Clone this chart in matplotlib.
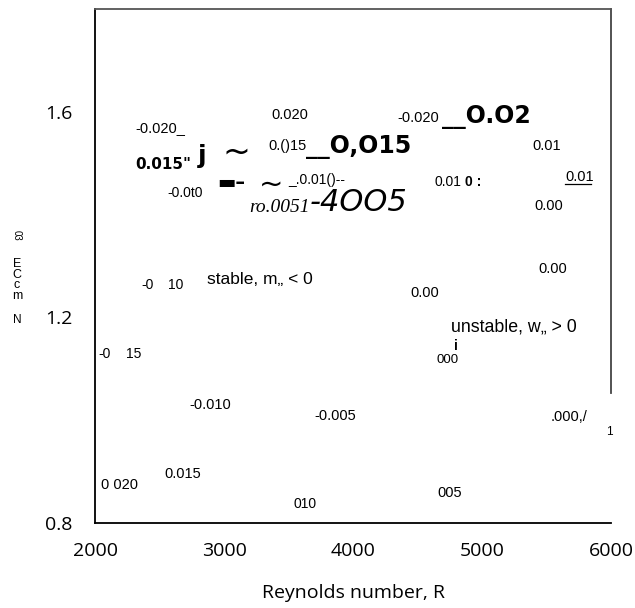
import matplotlib
matplotlib.use('Agg')
import matplotlib.pyplot as plt

# axis ranges and ticks
r_lim = (2000, 6000)
w_lim = (0.8, 1.8)
r_ticks = [2000, 3000, 4000, 5000, 6000]
w_ticks = [0.8, 1.2, 1.6]

# contour labels as they appear on the chart: (text, R, value, size, weight)
labels = [
    ('-0.020_', 2310, 1.569, 10.5, 'normal'),
    ('0.020', 3364, 1.594, 10.5, 'normal'),
    ('-0.020', 4341, 1.588, 10.5, 'normal'),
    ('0.()15', 3341, 1.534, 10.5, 'normal'),
    ('0.01', 5388, 1.534, 10.5, 'normal'),
    ('-0.0t0', 2558, 1.442, 10, 'normal'),
    ('_.0.01()--', 3496, 1.468, 10, 'normal'),
    ('0.01', 4628, 1.464, 10, 'normal'),
    ('0 :', 4870, 1.464, 10, 'bold'),
    ('0.00', 5403, 1.417, 10.5, 'normal'),
    ('0.00', 5434, 1.294, 10.5, 'normal'),
    ('0.00', 4442, 1.248, 10.5, 'normal'),
    ('-0', 2357, 1.263, 10, 'normal'),
    ('10', 2566, 1.263, 10, 'normal'),
    ('stable, m\u201e < 0', 2868, 1.273, 12.5, 'normal'),
    ('unstable, w\u201e > 0', 4760, 1.182, 12.8, 'normal'),
    ('i', 4783, 1.145, 10, 'bold'),
    ('000', 4651, 1.117, 9.5, 'normal'),
    ('-0', 2023, 1.129, 10, 'normal'),
    ('15', 2240, 1.129, 10, 'normal'),
    ('-0.010', 2729, 1.030, 10.5, 'normal'),
    ('-0.005', 3698, 1.008, 10.5, 'normal'),
    ('.000,/', 5535, 1.006, 10.5, 'normal'),
    ('1', 5961, 0.977, 8.5, 'normal'),
    ('0 020', 2047, 0.874, 10.5, 'normal'),
    ('0.015', 2535, 0.895, 10.5, 'normal'),
    ('010', 3535, 0.837, 10, 'normal'),
    ('005', 4651, 0.858, 10.5, 'normal'),
]

# large, distorted labels: (text, R, value, size)
big_labels = [
    ('__O.O2', 4690, 1.590, 17),
    ('__O,O15', 3636, 1.532, 17),
    ('0.015"', 2310, 1.497, 11),
    ('j', 2800, 1.514, 18),
    ('\u25ac\u2013', 2946, 1.462, 14),
]

# underlined label at the right edge
ul_label = ('0.01', 5643, 1.473)

fig = plt.figure(figsize=(6.35, 6.08), dpi=100)
ax = fig.add_axes([95 / 635, 85 / 608, 516 / 635, 514 / 608])
ax.set_xlim(*r_lim)
ax.set_ylim(*w_lim)
ax.set_xticks(r_ticks)
ax.set_yticks(w_ticks)
ax.set_xticklabels([str(t) for t in r_ticks], fontsize=14, family='Open Sans')
ax.set_yticklabels([str(t) for t in w_ticks], fontsize=14, family='Open Sans')
ax.tick_params(length=0)
ax.tick_params(axis='x', pad=14)
ax.tick_params(axis='y', pad=16)

for sp in ax.spines.values():
    sp.set_linewidth(1.3)
ax.spines['right'].set_bounds(1.053, 1.8)
ax.spines['right'].set_color('#444444')
ax.spines['top'].set_color('#555555')

ax.set_xlabel('Reynolds number, R', fontsize=14, family='Open Sans', labelpad=17)

for txt, r, w, size, weight in labels:
    ax.text(r, w, txt, fontsize=size, fontweight=weight, ha='left', va='center',
            family='Liberation Sans', clip_on=False)

for txt, r, w, size in big_labels:
    ax.text(r, w, txt, fontsize=size, fontweight='bold', ha='left', va='center',
            family='DejaVu Sans')

# thin and thick tildes
ax.text(2985, 1.522, '~', fontsize=24, ha='left', va='center', family='DejaVu Sans')
ax.text(3271, 1.458, '~', fontsize=21, ha='left', va='center', family='DejaVu Sans')
ax.text(3194, 1.413, 'ro.0051', fontsize=14, style='italic', ha='left', va='center',
        family='Liberation Serif')
ax.text(3667, 1.423, '-4OO5', fontsize=22, style='italic', ha='left', va='center',
        family='DejaVu Sans')

t, r, w = ul_label
ax.text(r, w, t, fontsize=10.5, ha='left', va='center', family='Liberation Sans')
ax.plot([r, r + 200], [w - 0.013, w - 0.013], color='black', lw=0.9)

# garbled y label
fig.text(17 / 635, 1 - 235 / 608, '03', fontsize=7, rotation=270, ha='center', va='center',
         family='Liberation Sans')
fig.text(17 / 635, 1 - 280 / 608, 'E\nC\nc\nm', fontsize=9, ha='center', va='center',
         linespacing=0.85, family='Liberation Sans')
fig.text(17 / 635, 1 - 320 / 608, 'N', fontsize=8.5, ha='center', va='center',
         family='Liberation Sans')

plt.savefig('out.png', dpi=100)
